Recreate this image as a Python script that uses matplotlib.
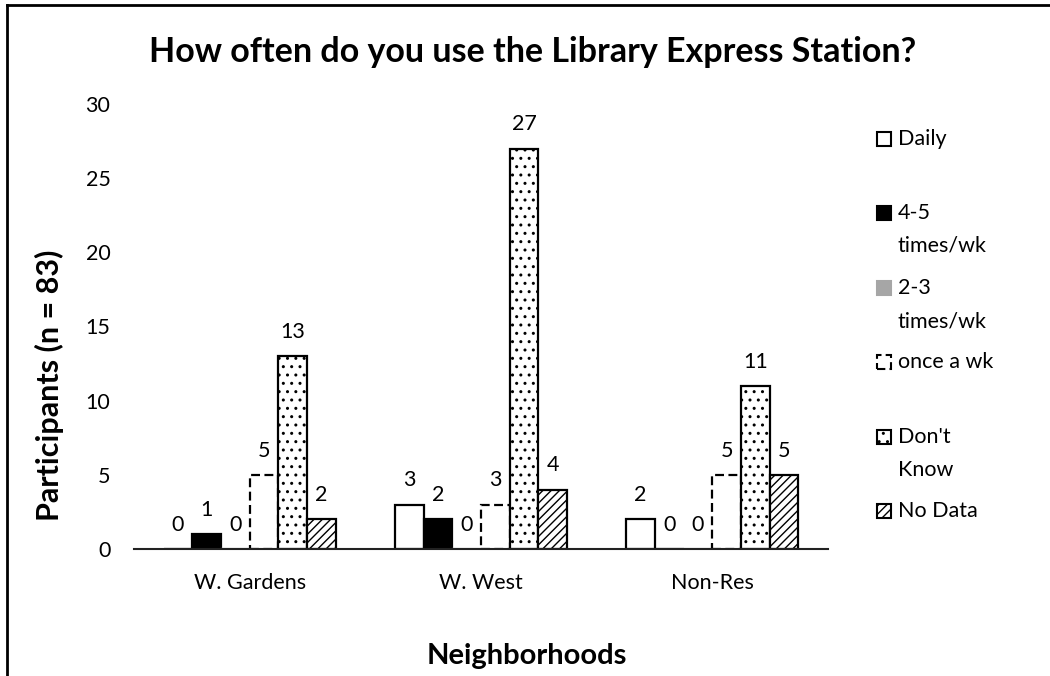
import matplotlib
matplotlib.use("Agg")
import matplotlib.pyplot as plt
from matplotlib.patches import Rectangle
from matplotlib.lines import Line2D
import numpy as np

plt.rcParams['font.family'] = ['Lato', 'DejaVu Sans']
plt.rcParams['hatch.linewidth'] = 1.0

title = "How often do you use the Library Express Station?"
categories = ["W. Gardens", "W. West", "Non-Res"]
series_names = ["Daily", "4-5\ntimes/wk", "2-3\ntimes/wk", "once a wk", "Don't\nKnow", "No Data"]
daily = [0, 3, 2]
times_4_5 = [1, 2, 0]
times_2_3 = [0, 0, 0]
once_a_wk = [5, 3, 5]
dont_know = [13, 27, 11]
no_data = [2, 4, 5]
series_values = [daily, times_4_5, times_2_3, once_a_wk, dont_know, no_data]
y_ticks = [0, 5, 10, 15, 20, 25, 30]

styles = [
    dict(facecolor='white', edgecolor='black', hatch=None, linestyle='-'),
    dict(facecolor='black', edgecolor='black', hatch=None, linestyle='-'),
    dict(facecolor='#A6A6A6', edgecolor='#A6A6A6', hatch=None, linestyle='-'),
    dict(facecolor='white', edgecolor='black', hatch=None, linestyle=(0, (4, 2))),
    dict(facecolor='white', edgecolor='black', hatch='..', linestyle='-'),
    dict(facecolor='white', edgecolor='black', hatch='////', linestyle='-'),
]

W, H = 1050, 676
FS = 15.5
fig = plt.figure(figsize=(W / 100, H / 100), dpi=100)
ax = fig.add_axes([134 / W, 1 - 549 / H, 694 / W, 445 / H])

x = np.arange(len(categories))
bw = 0.124
n = len(series_values)
for i, (vals, st) in enumerate(zip(series_values, styles)):
    off = (i - (n - 1) / 2) * bw
    ax.bar(x + off, vals, width=bw, facecolor=st['facecolor'],
           edgecolor=st['edgecolor'], hatch=st['hatch'],
           linestyle=st['linestyle'], linewidth=1.6, zorder=2)
    for xi, v in zip(x + off, vals):
        ax.annotate(str(v), (xi, v), xytext=(0, 17.5), textcoords='offset points',
                    ha='center', va='center', fontsize=FS)

ax.set_xlim(-0.5, len(categories) - 0.5)
ax.set_ylim(0, 30)
ax.set_yticks(y_ticks)
ax.set_xticks(x)
ax.set_xticklabels(categories)
ax.tick_params(axis='y', length=0, labelsize=FS, pad=17)
ax.tick_params(axis='x', length=0, labelsize=FS, pad=17)
for s in ['top', 'right', 'left']:
    ax.spines[s].set_visible(False)
ax.spines['bottom'].set_color('#222222')
ax.spines['bottom'].set_linewidth(1.5)
ax.spines['bottom'].set_zorder(3)

fig.text(533 / W, 1 - 62 / H, title, ha='center', va='baseline',
         fontsize=24.5, fontweight='bold')
fig.text(49 / W, 1 - 385 / H, "Participants (n = 83)", ha='center', va='center',
         rotation=90, fontsize=22, fontweight='bold')
fig.text(527 / W, 1 - 664 / H, "Neighborhoods", ha='center', va='baseline',
         fontsize=21, fontweight='bold')

# legend
entry_y = [139, 213, 288, 362, 437, 511]
sq = 14
for name, st, yc in zip(series_names, styles, entry_y):
    r = Rectangle((877 / W, 1 - (yc + sq / 2) / H), sq / W, sq / H,
                  transform=fig.transFigure, facecolor=st['facecolor'],
                  edgecolor=st['edgecolor'], hatch=st['hatch'],
                  linestyle=st['linestyle'], linewidth=1.5)
    fig.patches.append(r)
    for j, line in enumerate(name.split('\n')):
        fig.text(898 / W, 1 - (yc + j * 33) / H, line, ha='left', va='center',
                 fontsize=FS)

# chart border (left and top)
fig.add_artist(Line2D([7 / W, 7 / W], [0, 1 - 5 / H], transform=fig.transFigure,
                      color='black', linewidth=2))
fig.add_artist(Line2D([7 / W, 1], [1 - 5 / H, 1 - 5 / H], transform=fig.transFigure,
                      color='black', linewidth=2))

fig.savefig("out.png", dpi=100)
